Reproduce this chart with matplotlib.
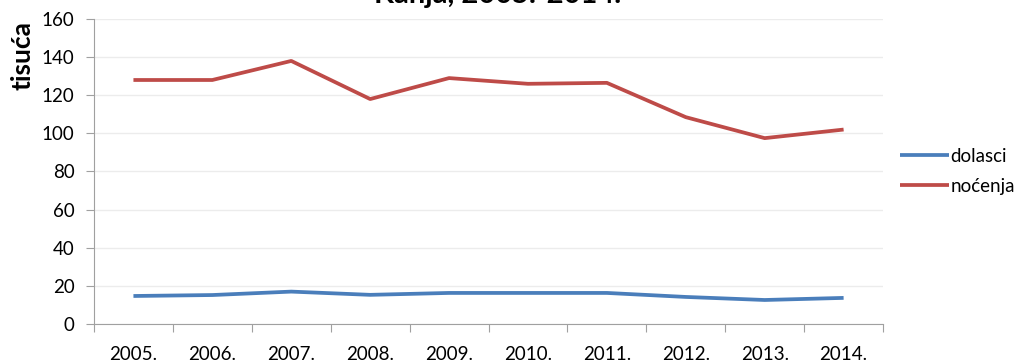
import matplotlib
matplotlib.use('Agg')
import matplotlib.pyplot as plt

plt.rcParams['font.family'] = ['Lato', 'DejaVu Sans']

years = ['2005.', '2006.', '2007.', '2008.', '2009.', '2010.', '2011.', '2012.', '2013.', '2014.']
dolasci = [14.7, 15.2, 17.0, 15.3, 16.3, 16.3, 16.3, 14.2, 12.6, 13.7]
nocenja = [128, 128, 138, 118, 129, 126, 126.5, 108.5, 97.5, 102]

fig = plt.figure(figsize=(10.15, 3.63), dpi=100)
ax = fig.add_axes([0.0926, 0.1074, 0.7774, 0.8403])

x = range(len(years))
ax.plot(x, dolasci, color='#4a7ebb', lw=2.7, label='dolasci', solid_capstyle='butt')
ax.plot(x, nocenja, color='#be4b48', lw=2.7, label='noćenja', solid_capstyle='butt')

ax.set_xlim(-0.5, len(years) - 0.5)
ax.set_ylim(0, 160)
ax.set_yticks(range(0, 161, 20))
# category boundaries carry the tick marks, labels sit in between
ax.set_xticks([i + 0.5 for i in range(-1, len(years))], minor=False)
ax.set_xticklabels([])
ax.set_xticks(list(x), minor=True)
ax.set_xticklabels(years, minor=True)
ax.tick_params(axis='x', which='major', length=6, color='#a0a0a0', direction='out')
ax.tick_params(axis='x', which='minor', length=0, pad=16, labelsize=13.5)
ax.tick_params(axis='y', length=6, color='#a0a0a0', labelsize=13.5, pad=8)

ax.grid(axis='y', color='#ececec', lw=1)
ax.set_axisbelow(True)
for s in ['top', 'right']:
    ax.spines[s].set_visible(False)
for s in ['left', 'bottom']:
    ax.spines[s].set_color('#a0a0a0')

fig.text(0.022, 0.848, 'tisuća', rotation=90, fontsize=19, fontweight='bold', ha='center', va='center')
# title is cut off at the top edge in the original
fig.text(0.49, 1 - 3 / 363, 'Kanja, 2005.-2014.', fontsize=21, fontweight='bold',
         ha='center', va='baseline')

ax.legend(loc='center left', bbox_to_anchor=(1.0, 0.5), frameon=False, fontsize=13.5,
          handlelength=2.6, handletextpad=0.1, labelspacing=0.7)

fig.savefig('out.png', dpi=100)
